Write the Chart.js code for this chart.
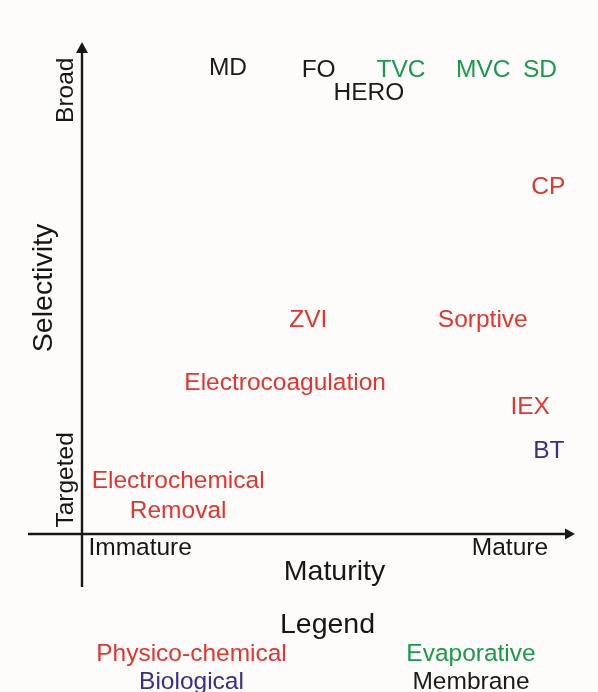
<!DOCTYPE html>
<html>
<head>
<meta charset="utf-8">
<title>Selectivity vs maturity</title>
<script src="https://cdn.jsdelivr.net/npm/chart.js@4/dist/chart.umd.min.js"></script>
<style>
  html, body { margin: 0; padding: 0; background: #fdfcfa; }
  #wrap { width: 598px; height: 692px; }
</style>
</head>
<body>
<div id="wrap"><canvas id="chart" width="598" height="692"></canvas></div>
<script>
// technologies placed on the maturity / selectivity plane
const techniques = ["MD", "FO", "TVC", "MVC", "SD", "HERO", "CP", "ZVI", "Sorptive",
  "Electrocoagulation", "IEX", "BT", "Electrochemical\nRemoval"];
const maturity = [29.6, 48.0, 64.7, 81.4, 92.9, 58.2, 94.6, 45.9, 81.3, 41.2, 90.9, 94.7, 19.5];
const selectivity = [95.1, 94.7, 94.7, 94.7, 94.7, 90.0, 70.9, 43.8, 43.8, 31.0, 26.2, 17.2, 8.1];
const family = ["Membrane", "Membrane", "Evaporative", "Evaporative", "Evaporative", "Membrane",
  "Physico-chemical", "Physico-chemical", "Physico-chemical", "Physico-chemical",
  "Physico-chemical", "Biological", "Physico-chemical"];

const families = ["Physico-chemical", "Evaporative", "Biological", "Membrane"];
const xTickLabels = ["Immature", "Mature"];
const xTickValues = [11.8, 86.8];
const yTickLabels = ["Targeted", "Broad"];
const yTickValues = [11.0, 90.2];

const familyColors = {
  "Physico-chemical": "#e5332e",
  "Evaporative": "#179a4b",
  "Biological": "#3a2d8b",
  "Membrane": "#1b1b1b"
};
const ink = "#161616";
const font = "'Liberation Sans', Arial, Helvetica, sans-serif";
const labelSize = 24.5;
const titleSize = 28.5;

function capHeight(size) {
  return size * 0.716;
}

const datasets = families.map((name) => ({
  label: name,
  data: techniques
    .map((t, i) => ({ x: maturity[i], y: selectivity[i], name: t, fam: family[i] }))
    .filter((p) => p.fam === name),
  pointRadius: 0,
  pointHoverRadius: 0,
  backgroundColor: familyColors[name]
}));

function text(ctx, str, x, y, size, color, align) {
  ctx.font = size + "px " + font;
  ctx.fillStyle = color;
  ctx.textAlign = align || "center";
  ctx.textBaseline = "alphabetic";
  ctx.fillText(str, x, y + capHeight(size) / 2);
}

function vText(ctx, str, x, y, size, color) {
  ctx.save();
  ctx.translate(x + capHeight(size) / 2, y);
  ctx.rotate(-Math.PI / 2);
  ctx.font = size + "px " + font;
  ctx.fillStyle = color;
  ctx.textAlign = "center";
  ctx.textBaseline = "alphabetic";
  ctx.fillText(str, 0, 0);
  ctx.restore();
}

const planePlugin = {
  id: "plane",
  beforeDraw(chart) {
    const { ctx, width, height } = chart;
    ctx.save();
    ctx.fillStyle = "#fdfcfa";
    ctx.fillRect(0, 0, width, height);
    ctx.restore();
  },
  afterDatasetsDraw(chart) {
    const { ctx } = chart;
    const xs = chart.scales.x;
    const ys = chart.scales.y;
    const x0 = xs.getPixelForValue(0);
    const x1 = xs.getPixelForValue(100);
    const y0 = ys.getPixelForValue(0);
    const y1 = ys.getPixelForValue(100);

    ctx.save();
    // axes with arrows
    ctx.strokeStyle = ink;
    ctx.fillStyle = ink;
    ctx.lineWidth = 2.4;
    ctx.beginPath();
    ctx.moveTo(x0, y0 + 53);
    ctx.lineTo(x0, y1 + 8);
    ctx.moveTo(x0 - 54, y0);
    ctx.lineTo(x1 - 8, y0);
    ctx.stroke();
    ctx.beginPath();
    ctx.moveTo(x0, y1);
    ctx.lineTo(x0 - 6, y1 + 11);
    ctx.lineTo(x0 + 6, y1 + 11);
    ctx.closePath();
    ctx.fill();
    ctx.beginPath();
    ctx.moveTo(x1, y0);
    ctx.lineTo(x1 - 10, y0 - 5.5);
    ctx.lineTo(x1 - 10, y0 + 5.5);
    ctx.closePath();
    ctx.fill();

    // tick words
    xTickLabels.forEach((t, i) => {
      text(ctx, t, xs.getPixelForValue(xTickValues[i]), y0 + 12.5, labelSize, ink);
    });
    yTickLabels.forEach((t, i) => {
      vText(ctx, t, x0 - 18, ys.getPixelForValue(yTickValues[i]), labelSize, ink);
    });

    // axis titles
    text(ctx, "Maturity", (x0 + x1) / 2 + 6, y0 + 35.5, titleSize, ink);
    vText(ctx, "Selectivity", x0 - 40, (y0 + y1) / 2, titleSize, ink);

    // technology labels at their data points
    chart.data.datasets.forEach((ds, di) => {
      const meta = chart.getDatasetMeta(di);
      meta.data.forEach((pt, i) => {
        const lines = ds.data[i].name.split("\n");
        const step = 30;
        const top = pt.y - (step * (lines.length - 1)) / 2;
        lines.forEach((ln, k) => {
          text(ctx, ln, pt.x, top + k * step, labelSize, familyColors[ds.label]);
        });
      });
    });

    // legend block under the plot
    const h = chart.height;
    text(ctx, "Legend", 327.5, h - 69.5, titleSize, ink);
    const cols = [191.5, 471];
    const rows = [h - 39.5, h - 11.5];
    families.forEach((name, i) => {
      text(ctx, name, cols[i % 2], rows[Math.floor(i / 2)], labelSize, familyColors[name]);
    });
    ctx.restore();
  }
};

new Chart(document.getElementById("chart"), {
  type: "scatter",
  data: { datasets },
  options: {
    responsive: false,
    animation: false,
    events: [],
    layout: { padding: { left: 82, right: 23, top: 42, bottom: 158 } },
    plugins: {
      legend: { display: false },
      tooltip: { enabled: false }
    },
    scales: {
      x: { type: "linear", min: 0, max: 100, display: false },
      y: { type: "linear", min: 0, max: 100, display: false }
    }
  },
  plugins: [planePlugin]
});
</script>
</body>
</html>
